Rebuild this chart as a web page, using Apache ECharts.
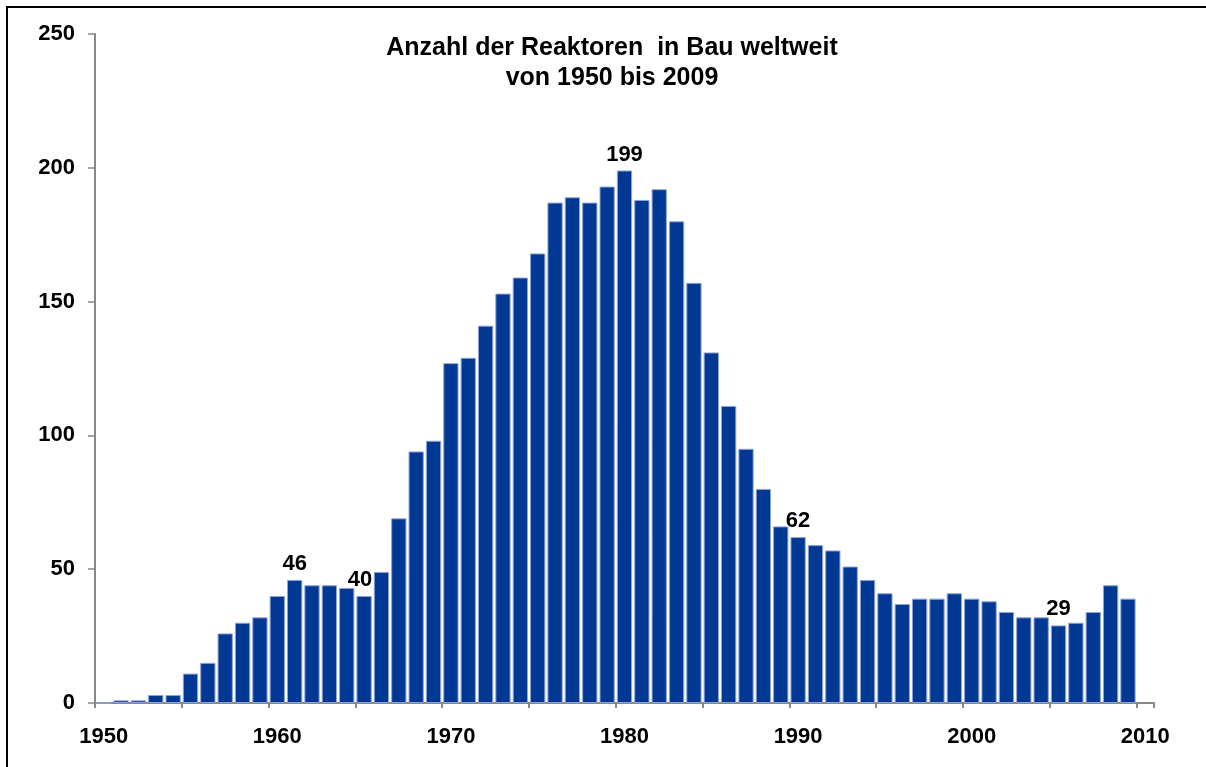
<!DOCTYPE html>
<html>
<head>
<meta charset="utf-8">
<title>Anzahl der Reaktoren in Bau weltweit</title>
<script src="https://cdn.jsdelivr.net/npm/echarts@6/dist/echarts.min.js"></script>
<style>
    html, body { margin: 0; padding: 0; background: #fff; overflow: hidden; }
    #chart { position: absolute; left: 0; top: 0; width: 1206px; height: 767px; }
    #frame { position: absolute; left: 6px; top: 6px; width: 1220px; height: 780px;
             border: 2px solid #000; pointer-events: none; }
</style>
</head>
<body>
<div id="chart"></div>
<div id="frame"></div>
<script>
// Jahre 1950 bis 2010 (2010 ohne Wert)
var years = [];
for (var y = 1950; y <= 2010; y++) { years.push(String(y)); }

// Reaktoren in Bau pro Jahr, 1950 - 2009
var reactors = [
    0, 1, 1, 3, 3, 11, 15, 26, 30, 32,
    40, 46, 44, 44, 43, 40, 49, 69, 94, 98,
    127, 129, 141, 153, 159, 168, 187, 189, 187, 193,
    199, 188, 192, 180, 157, 131, 111, 95, 80, 66,
    62, 59, 57, 51, 46, 41, 37, 39, 39, 41,
    39, 38, 34, 32, 32, 29, 30, 34, 44, 39
];

// Jahre mit Beschriftung
var labeledYears = ['1961', '1965', '1980', '1990', '2005'];

var yTicks = [0, 50, 100, 150, 200, 250];

(function () {
    var myChart = echarts.init(document.getElementById('chart'));

    var labelOffsets = { '1965': [-4, 0] };

    var seriesData = reactors.map(function (v, i) {
        var yr = years[i];
        if (labeledYears.indexOf(yr) >= 0) {
            return {
                value: v,
                label: { show: true, offset: labelOffsets[yr] || [0, 0] }
            };
        }
        return v;
    });

    var option = {
        animation: false,
        textStyle: { fontFamily: 'Liberation Sans, Arial, sans-serif' },
        title: {
            text: 'Anzahl der Reaktoren  in Bau weltweit\nvon 1950 bis 2009',
            left: 607,
            top: 28,
            textAlign: 'center',
            textStyle: {
                fontSize: 25,
                fontWeight: 'bold',
                color: '#000',
                lineHeight: 30,
                fontFamily: 'Liberation Sans, Arial, sans-serif'
            }
        },
        grid: {
            left: 95,
            top: 34,
            width: 1059,
            height: 669,
            containLabel: false
        },
        xAxis: {
            type: 'category',
            data: years,
            boundaryGap: true,
            axisLine: { lineStyle: { color: '#888', width: 2 } },
            axisTick: {
                show: true,
                interval: 4,
                length: 5,
                lineStyle: { color: '#888', width: 2 }
            },
            axisLabel: {
                interval: 9,
                margin: 23,
                fontSize: 22,
                fontWeight: 'bold',
                color: '#000'
            },
            splitLine: { show: false }
        },
        yAxis: {
            type: 'value',
            min: yTicks[0],
            max: yTicks[yTicks.length - 1],
            interval: 50,
            axisLine: { show: true, lineStyle: { color: '#888', width: 2 } },
            axisTick: { show: true, length: 7, lineStyle: { color: '#888', width: 1.5 } },
            axisLabel: {
                margin: 20,
                fontSize: 22,
                fontWeight: 'bold',
                color: '#000'
            },
            splitLine: { show: false }
        },
        series: [{
            name: 'Reaktoren in Bau',
            type: 'bar',
            data: seriesData,
            barCategoryGap: '12%',
            itemStyle: {
                color: '#003893',
                borderColor: '#8fa3d6',
                borderWidth: 1
            },
            label: {
                show: false,
                position: 'top',
                distance: 5,
                fontSize: 22,
                fontWeight: 'bold',
                color: '#000'
            }
        }]
    };

    myChart.setOption(option);
})();
</script>
</body>
</html>
